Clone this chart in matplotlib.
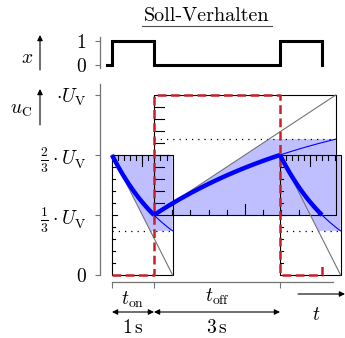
import numpy as np
import matplotlib
matplotlib.use("Agg")
import matplotlib.pyplot as plt
from matplotlib.lines import Line2D

plt.rcParams["mathtext.fontset"] = "cm"
plt.rcParams["font.family"] = "cmr10"
plt.rcParams["axes.unicode_minus"] = False

# switching signal x(t)
SIG_T = [-0.12, 0, 0, 1, 1, 4, 4, 5, 5]
SIG_X = [0, 0, 1, 1, 0, 0, 1, 1, 0]

# ideal reference (red dashed), in units of U_V
REF_T = [0, 1, 1, 4, 4, 5, 5]
REF_U = [0, 0, 1, 1, 0, 0, 0.07]

# capacitor phases: start/end time, start/end level, final level
PHASE_T0 = [0, 1, 4]
PHASE_T1 = [1, 4, 5]
PHASE_U0 = [2/3, 1/3, 2/3]
PHASE_U1 = [1/3, 2/3, 1/3]
PHASE_UINF = [0, 1, 0]

U_TICKS = [0, 1/3, 2/3, 1]
U_LABELS = [r"$0$", r"$\frac{1}{3}\cdot U_\mathrm{V}$",
            r"$\frac{2}{3}\cdot U_\mathrm{V}$", r"$\cdot U_\mathrm{V}$"]
X_TICKS = [0, 1]
X_LABELS = [r"$0$", r"$1$"]
T_TICKS = [0, 1, 4]

SPAN_START = [0, 1]
SPAN_END = [1, 4]
SPAN_NAMES = [r"$t_\mathrm{on}$", r"$t_\mathrm{off}$"]
SPAN_SECONDS = [r"$1\,\mathrm{s}$", r"$3\,\mathrm{s}$"]

W, H = 345, 338
SX, SY = 42.0, 180.0      # pixels per second / per U_V
T0_PX, U0_PX = 112, 275   # pixel position of t=0, u=0 (from top)

BLUE = "#0000ff"
FILL = "#bfbfff"
RED = "#c8202a"
GREY = "0.45"

fig = plt.figure(figsize=(W / 100, H / 100), dpi=100)
ax = fig.add_axes([0, 0, 1, 1])
ax.set_xlim(-T0_PX / SX, (W - T0_PX) / SX)
ax.set_ylim(-(H - U0_PX) / SY, U0_PX / SY)
ax.patch.set_alpha(0)

axt = fig.add_axes([0, 0, 1, 1])
axt.set_xlim(ax.get_xlim())
axt.set_ylim(-(H - 65) / 24, 65 / 24)
axt.patch.set_alpha(0)


def fp(x, y):
    return (x, H - y)


# ---- axes styling ----
for a in (ax, axt):
    a.spines["top"].set_visible(False)
    a.spines["right"].set_visible(False)
    a.spines["left"].set_position(("data", -12 / SX))
    a.spines["left"].set_color(GREY)
    a.spines["left"].set_linewidth(0.9)
    a.tick_params(axis="y", direction="out", length=3.6, width=0.8,
                  color=GREY, pad=6, labelsize=14)

ax.spines["left"].set_bounds(0, 1.06)
ax.spines["bottom"].set_position(("data", -7 / SY))
ax.spines["bottom"].set_bounds(0, 221 / SX)
ax.spines["bottom"].set_color(GREY)
ax.spines["bottom"].set_linewidth(0.9)
ax.set_yticks(U_TICKS, U_LABELS)
ax.set_xticks(T_TICKS, [""] * len(T_TICKS))
ax.tick_params(axis="x", direction="out", length=4, width=0.8, color=GREY)

axt.spines["bottom"].set_visible(False)
axt.spines["left"].set_bounds(-0.125, 1.17)
axt.set_xticks([])
axt.set_yticks(X_TICKS, X_LABELS)

# ---- switching signal ----
axt.plot(SIG_T, SIG_X, color="black", lw=2.2, solid_joinstyle="miter")

# ---- capacitor phases ----
for t0, t1, u0, u1, uinf in zip(PHASE_T0, PHASE_T1, PHASE_U0, PHASE_U1, PHASE_UINF):
    tau = (t1 - t0) / np.log((u0 - uinf) / (u1 - uinf))
    ue = uinf + (u0 - uinf) / np.e
    tk = t0 + (1 - 1 / np.e) * tau
    # fill between tangent, 1/e level and box edge
    ax.fill([t0, tk, t0 + tau, t0 + tau], [u0, ue, ue, u0], color=FILL, lw=0, zorder=1)
    # dotted 1/e level
    ax.plot([t0, t0 + tau], [ue, ue], color="black", lw=0.9,
            ls=(0, (1, 4)), zorder=2)
    # box
    ax.plot([t0, t0 + tau, t0 + tau, t0, t0], [u0, u0, uinf, uinf, u0],
            color="black", lw=0.8, zorder=3)
    # tangent
    ax.plot([t0, t0 + tau], [u0, uinf], color="0.45", lw=0.8, zorder=3)
    # rulers
    sgn = np.sign(uinf - u0)
    for k in range(1, 10):
        tt = t0 + tau * k / 10
        L = (11 if k == 5 else 5) / SY
        ax.plot([tt, tt], [u0, u0 + sgn * L], color="black", lw=0.8, zorder=3)
        uu = u0 + (uinf - u0) * k / 10
        Lv = 0.055 * tau * (1.5 if k == 5 else 1)
        ax.plot([t0, t0 + Lv], [uu, uu], color="black", lw=0.8, zorder=3)
    # exponential
    ts = np.linspace(t0, t1, 120)
    ax.plot(ts, uinf + (u0 - uinf) * np.exp(-(ts - t0) / tau),
            color=BLUE, lw=3.2, solid_capstyle="butt", zorder=6)
    ts = np.linspace(t1, t0 + tau, 60)
    ax.plot(ts, uinf + (u0 - uinf) * np.exp(-(ts - t0) / tau),
            color=BLUE, lw=0.8, zorder=5)

# ---- reference (red dashed) ----
ax.plot(REF_T, REF_U, color=RED, lw=1.8, ls=(0, (3.5, 1.8)), zorder=4)

# ---- dimension arrows ----
y_dim = -37 / SY
for a, b, name, sec, ny in zip(SPAN_START, SPAN_END, SPAN_NAMES, SPAN_SECONDS, [300, 297]):
    ax.annotate("", xy=(b, y_dim), xytext=(a, y_dim),
                arrowprops=dict(arrowstyle="<|-|>", color="black", lw=0.8,
                                mutation_scale=8, shrinkA=0, shrinkB=0))
    ax.text((a + b) / 2, -(ny - U0_PX) / SY, name, ha="center", va="center", fontsize=14)
    ax.text((a + b) / 2, -(328 - U0_PX) / SY, sec, ha="center", va="center", fontsize=14)

# t axis arrow
ax.annotate("", xy=fp(345, 294), xytext=fp(298, 294), xycoords="figure pixels",
            arrowprops=dict(arrowstyle="-|>", color="black", lw=0.8,
                            mutation_scale=8, shrinkA=0, shrinkB=0))
fig.text(316 / W, 1 - 315 / H, r"$t$", ha="center", va="center", fontsize=14)

# x and u_C labels with arrows
for y_lo, y_hi in [(70, 35), (125, 89)]:
    ax.annotate("", xy=fp(40, y_hi), xytext=fp(40, y_lo), xycoords="figure pixels",
                arrowprops=dict(arrowstyle="-|>", color="black", lw=0.8,
                                mutation_scale=8, shrinkA=0, shrinkB=0))
fig.text(27 / W, 1 - 58 / H, r"$x$", ha="center", va="center", fontsize=14)
fig.text(21 / W, 1 - 110 / H, r"$u_\mathrm{C}$", ha="center", va="center", fontsize=14)

# title
fig.text(207 / W, 1 - 16 / H, "Soll-Verhalten", ha="center", va="center", fontsize=14.5)
fig.add_artist(Line2D([142 / W, 272 / W], [1 - 26 / H] * 2,
                      transform=fig.transFigure, color="0.3", lw=0.8))

fig.savefig("out.png", dpi=100)
